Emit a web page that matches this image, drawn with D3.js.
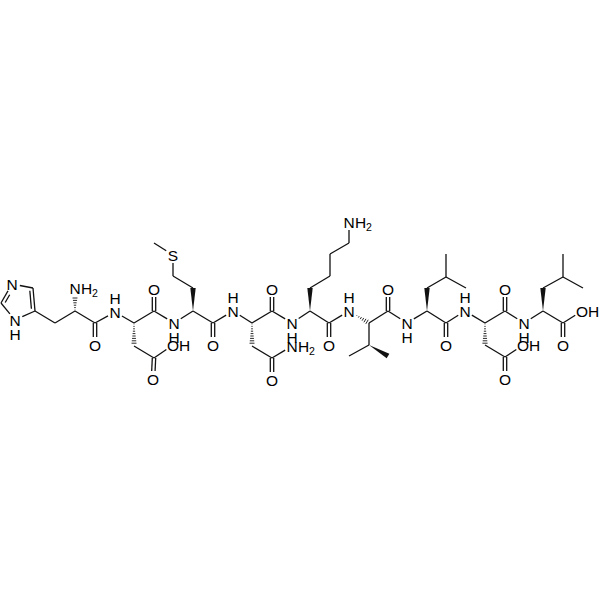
<!DOCTYPE html>
<html>
<head>
<meta charset="utf-8">
<script src="https://cdnjs.cloudflare.com/ajax/libs/d3/7.8.5/d3.min.js"></script>
<style>
  html, body { margin: 0; padding: 0; background: #fff; }
  svg { display: block; }
</style>
</head>
<body>
<div id="chart"></div>
<script>
// atoms
const atomX = [12, 1, 15, 35, 33, 55, 75, 75, 95, 95, 115, 134, 154, 154, 134, 154, 153, 173, 174, 193,
  193, 173, 173, 154, 213, 213, 233, 252, 272, 272, 252, 272, 272, 292, 292, 310, 310, 330, 330, 349,
  349, 329, 329, 349, 369, 369, 349, 388, 388, 388, 407, 427, 427, 446, 446, 466, 446, 446, 465, 485,
  505, 505, 485, 505, 505, 523, 524, 543, 543, 563, 563, 583, 563, 563, 582];
const atomY = [284, 303, 320, 311, 288, 323, 311, 288, 323, 345, 312, 323, 311, 289, 346, 358, 379, 345, 323, 311,
  288, 276, 255, 243, 323, 345, 311, 323, 311, 289, 346, 358, 380, 346, 323, 311, 288, 276, 254, 243,
  222, 323, 345, 311, 323, 345, 356, 356, 311, 289, 323, 311, 288, 277, 254, 288, 323, 345, 311, 323,
  311, 289, 345, 357, 379, 345, 323, 311, 288, 277, 254, 288, 323, 345, 311];

// element letter of the atoms that carry a label, by atom index
const labelAtoms = [0, 2, 7, 9, 10, 13, 16, 17, 18, 22, 25, 26, 29, 32, 33, 34, 40, 42, 43, 49, 50, 57, 58, 61, 64, 65, 66, 73, 74];
const labelElems = ["N", "N", "N", "O", "N", "O", "O", "O", "N", "S", "O", "N", "O", "O", "N", "N", "N", "O", "N", "O", "N", "O", "N", "O", "O", "O", "N", "O", "O"];
const labelHs = ["", "below", "h2", "", "above", "", "", "h", "below", "", "", "above", "", "", "h2", "below", "h2", "", "above", "", "below", "", "above", "", "", "h", "below", "", "h"];

// bonds: from, to, kind
const bondFrom = [0, 1, 2, 3, 4, 3, 5, 6, 6, 8, 8, 10, 11, 12, 11, 14, 15, 15, 12, 18, 19, 20, 21, 22, 19, 24, 24, 26, 27, 28, 27, 30, 31, 31, 28, 34,
  35, 36, 37, 38, 39, 35, 41, 41, 43, 44, 45, 45, 44, 48, 48, 50, 51, 52, 53, 53, 51, 56, 56, 58, 59, 60, 59, 62, 63, 63, 60, 66, 67, 68, 69, 69, 67, 72, 72];
const bondTo = [1, 2, 3, 4, 0, 5, 6, 7, 8, 9, 10, 11, 12, 13, 14, 15, 16, 17, 18, 19, 20, 21, 22, 23, 24, 25, 26, 27, 28, 29, 30, 31, 32, 33, 34, 35,
  36, 37, 38, 39, 40, 41, 42, 43, 44, 45, 46, 47, 48, 49, 50, 51, 52, 53, 54, 55, 56, 57, 58, 59, 60, 61, 62, 63, 64, 65, 66, 67, 68, 69, 70, 71, 72, 73, 74];
const bondKinds = ["ring2", "s", "s", "ring2", "s", "s", "s", "hash", "s", "d", "s", "s", "s", "d", "hash", "s", "d", "s", "s", "s", "wedge", "s", "s", "s", "s", "d", "s", "s", "s", "d", "hash", "s", "d", "s", "s", "s",
  "wedge", "s", "s", "s", "s", "s", "d", "s", "hash", "s", "s", "wedge", "s", "d", "s", "s", "wedge", "s", "s", "s", "s", "d", "s", "s", "s", "d", "hash", "s", "d", "s", "s", "s", "wedge", "s", "s", "s", "s", "d", "s"];

const width = 600;
const height = 600;
const fontSize = 15.5;
const labelGap = 8;
const lineColor = "#111";

const x = d3.scaleLinear().domain([0, 600]).range([0, width]);
const y = d3.scaleLinear().domain([0, 600]).range([0, height]);

const svg = d3.select("#chart")
  .append("svg")
  .attr("width", width)
  .attr("height", height)
  .style("background", "#fff");

const labelled = new Set(labelAtoms);
const ringCenter = [d3.mean([0, 1, 2, 3, 4], i => atomX[i]), d3.mean([0, 1, 2, 3, 4], i => atomY[i])];

// end points of a bond, pulled back from labelled atoms
function bondEnds(i) {
  const a = bondFrom[i], b = bondTo[i];
  const x1 = x(atomX[a]), y1 = y(atomY[a]), x2 = x(atomX[b]), y2 = y(atomY[b]);
  const len = Math.hypot(x2 - x1, y2 - y1);
  const ux = (x2 - x1) / len, uy = (y2 - y1) / len;
  const t1 = labelled.has(a) ? labelGap : 0;
  const t2 = labelled.has(b) ? labelGap : 0;
  return { x1: x1 + ux * t1, y1: y1 + uy * t1, x2: x2 - ux * t2, y2: y2 - uy * t2, ux, uy };
}

const bonds = d3.range(bondFrom.length).map(i => ({ i, kind: bondKinds[i], ...bondEnds(i) }));

const lineSegs = [];
bonds.forEach(b => {
  const nx = -b.uy, ny = b.ux;
  if (b.kind === "s") {
    lineSegs.push([b.x1, b.y1, b.x2, b.y2]);
  } else if (b.kind === "d") {
    lineSegs.push([b.x1 + nx * 1.7, b.y1 + ny * 1.7, b.x2 + nx * 1.7, b.y2 + ny * 1.7]);
    lineSegs.push([b.x1 - nx * 1.7, b.y1 - ny * 1.7, b.x2 - nx * 1.7, b.y2 - ny * 1.7]);
  } else if (b.kind === "ring2") {
    // second line on the inside of the ring, a little shorter
    const side = ((ringCenter[0] - b.x1) * nx + (ringCenter[1] - b.y1) * ny) > 0 ? 1 : -1;
    lineSegs.push([b.x1, b.y1, b.x2, b.y2]);
    lineSegs.push([
      b.x1 + nx * side * 3.4 + b.ux * 2.5, b.y1 + ny * side * 3.4 + b.uy * 2.5,
      b.x2 + nx * side * 3.4 - b.ux * 2.5, b.y2 + ny * side * 3.4 - b.uy * 2.5
    ]);
  } else if (b.kind === "hash") {
    const len = Math.hypot(b.x2 - b.x1, b.y2 - b.y1);
    d3.range(1, len - 1, 2.4).forEach(t => {
      const w = 0.2 + 2.6 * t / len;
      const px = b.x1 + b.ux * t, py = b.y1 + b.uy * t;
      lineSegs.push([px - nx * w, py - ny * w, px + nx * w, py + ny * w, 0.9]);
    });
  }
});

svg.append("g").selectAll("line")
  .data(lineSegs)
  .join("line")
  .attr("x1", d => d[0])
  .attr("y1", d => d[1])
  .attr("x2", d => d[2])
  .attr("y2", d => d[3])
  .attr("stroke", lineColor)
  .attr("stroke-width", d => d[4] || 1.3);

svg.append("g").selectAll("path")
  .data(bonds.filter(b => b.kind === "wedge"))
  .join("path")
  .attr("fill", lineColor)
  .attr("d", b => {
    const nx = -b.uy, ny = b.ux;
    return d3.line()([
      [b.x1, b.y1],
      [b.x2 + nx * 2.7, b.y2 + ny * 2.7],
      [b.x2 - nx * 2.7, b.y2 - ny * 2.7]
    ]) + "Z";
  });

// atom labels
const labels = svg.append("g")
  .attr("font-family", "'Liberation Sans', Arial, sans-serif")
  .attr("font-size", fontSize)
  .attr("fill", "#000");

labelAtoms.forEach((a, i) => {
  const cx = x(atomX[a]), cy = y(atomY[a]);
  labels.append("text")
    .attr("x", cx)
    .attr("y", cy + fontSize * 0.36)
    .attr("text-anchor", "middle")
    .text(labelElems[i]);
  const h = labelHs[i];
  if (h === "above" || h === "below") {
    labels.append("text")
      .attr("x", cx)
      .attr("y", cy + fontSize * 0.36 + (h === "above" ? -14 : 14))
      .attr("text-anchor", "middle")
      .text("H");
  } else if (h === "h" || h === "h2") {
    const t = labels.append("text")
      .attr("x", cx + fontSize * 0.38)
      .attr("y", cy + fontSize * 0.36)
      .text("H");
    if (h === "h2") {
      t.append("tspan")
        .attr("font-size", fontSize * 0.68)
        .attr("dy", 3.5)
        .text("2");
    }
  }
});
</script>
</body>
</html>
